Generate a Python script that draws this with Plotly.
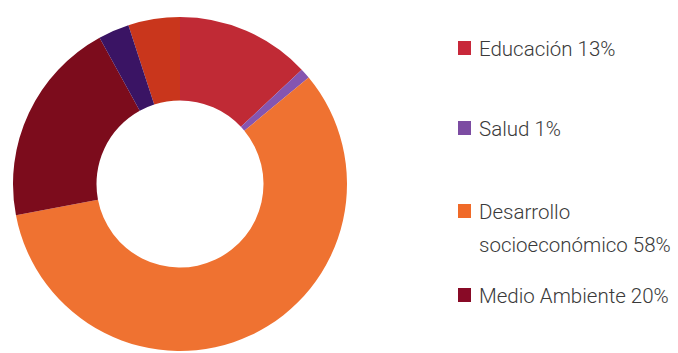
import plotly.graph_objects as go

# Slice data (clockwise from the top-left start of the Educación block)
slice_labels = ["Educación (inicio)", "Educación", "Salud", "Desarrollo socioeconómico", "Medio Ambiente", "Otros"]
slice_values = [5, 13, 1, 58, 20, 3]
slice_colors = ["#c9361c", "#c02a35", "#8555b0", "#ef7231", "#7c0c1c", "#3a1464"]

# Legend data
legend_lines = [["Educación 13%"], ["Salud 1%"], ["Desarrollo", "socioeconómico 58%"], ["Medio Ambiente 20%"]]
legend_colors = ["#c8283a", "#7c4ca2", "#f06a28", "#880a26"]
legend_y_px = [48, 128, 211, 295]

W, H = 678, 353

fig = go.Figure()
fig.add_trace(go.Pie(
    labels=slice_labels,
    values=slice_values,
    marker=dict(colors=slice_colors, line=dict(width=0)),
    hole=0.5,
    sort=False,
    direction="clockwise",
    rotation=-18,
    textinfo="none",
    hoverinfo="label+percent",
    showlegend=False,
    domain=dict(x=[12 / W, 348 / W], y=[2 / H, 336 / H]),
))

shapes = []
annotations = []
for lines, col, yc in zip(legend_lines, legend_colors, legend_y_px):
    shapes.append(dict(type="rect", xref="paper", yref="paper",
                       x0=458 / W, x1=471 / W, y0=1 - (yc + 7) / H, y1=1 - (yc - 7) / H,
                       fillcolor=col, line=dict(width=0)))
    for i, txt in enumerate(lines):
        annotations.append(dict(text=txt, xref="paper", yref="paper",
                                x=477 / W, y=1 - (yc + 1 + i * 33) / H,
                                xanchor="left", yanchor="middle", showarrow=False,
                                font=dict(family="Roboto", size=20.5, color="#3a3a3a", weight=300)))

fig.update_layout(
    width=W, height=H,
    margin=dict(l=0, r=0, t=0, b=0),
    paper_bgcolor="white", plot_bgcolor="white",
    shapes=shapes, annotations=annotations,
)

fig.write_html("out.html")
